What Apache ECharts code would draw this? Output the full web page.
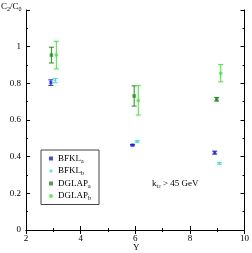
<!DOCTYPE html>
<html><head><meta charset="utf-8">
<script src="https://cdn.jsdelivr.net/npm/echarts@6/dist/echarts.min.js"></script>
<style>html,body{margin:0;padding:0;background:#fff}#c{width:252px;height:253px}</style>
</head><body><div id="c"></div>
<script>
// Data: [Y, C2/C0, error]
const bfklA  = [[2.91, 0.804, 0.015], [5.90, 0.463, 0.004], [8.91, 0.422, 0.008]];
const bfklB  = [[3.07, 0.815, 0.012], [6.07, 0.483, 0.004], [9.08, 0.364, 0.005]];
const dglapA = [[2.93, 0.954, 0.043], [5.96, 0.731, 0.055], [8.98, 0.713, 0.010]];
const dglapB = [[3.11, 0.954, 0.075], [6.11, 0.707, 0.080], [9.13, 0.855, 0.047]];
const xTicks = [2, 4, 6, 8, 10];
const yTicks = [0, 0.2, 0.4, 0.6, 0.8, 1];

const font = 'Liberation Serif';
const chart = echarts.init(document.getElementById('c'));

function errSeries(data, color) {
  return {
    type: 'custom', data: data, z: 2, silent: true,
    renderItem: function (params, api) {
      const x = api.value(0), y = api.value(1), e = api.value(2);
      const top = api.coord([x, y + e]), bot = api.coord([x, y - e]);
      const w = 2.5;
      const st = { stroke: color, lineWidth: 1 };
      return { type: 'group', children: [
        { type: 'line', shape: { x1: top[0], y1: top[1], x2: bot[0], y2: bot[1] }, style: st },
        { type: 'line', shape: { x1: top[0] - w, y1: top[1], x2: top[0] + w, y2: top[1] }, style: st },
        { type: 'line', shape: { x1: bot[0] - w, y1: bot[1], x2: bot[0] + w, y2: bot[1] }, style: st }
      ]};
    }
  };
}
function ptSeries(name, data, color, symbol, size) {
  return { name: name, type: 'scatter', data: data.map(d => [d[0], d[1]]), symbol: symbol, symbolSize: size,
    itemStyle: { color: color }, z: 3 };
}

const cBA = '#1a1aff', cBB = '#40e0d0', cDA = '#1f8f1f', cDB = '#33ee33';
const rich = {
  b: { fontFamily: font, fontSize: 9, color: '#000', lineHeight: 11 },
  s: { fontFamily: font, fontSize: 6, color: '#000', lineHeight: 6, verticalAlign: 'bottom', padding: [5, 0, 0, 0] },
  ss: { fontFamily: font, fontSize: 5, color: '#000', lineHeight: 5, verticalAlign: 'bottom', padding: [9, 0, 0, 0] }
};

const axisCommon = {
  axisLine: { lineStyle: { color: '#000', width: 1 } },
  axisTick: { inside: true, length: 4, lineStyle: { color: '#000' } },
  minorTick: { show: true, splitNumber: 2, length: 2, lineStyle: { color: '#000' } },
  splitLine: { show: false }
};

chart.setOption({
  animation: false,
  grid: { left: 26, right: 6, top: 10, bottom: 23 },
  xAxis: [
    Object.assign({ type: 'value', min: xTicks[0], max: xTicks[xTicks.length - 1], interval: 2,
      axisLabel: { fontFamily: font, fontSize: 9, color: '#000', margin: 4 } }, axisCommon),
    Object.assign({ type: 'value', position: 'top', min: 2, max: 10, interval: 2, axisLabel: { show: false } }, axisCommon)
  ],
  yAxis: [
    Object.assign({ type: 'value', min: 0, max: 1.2, interval: 0.2,
      axisLabel: { fontFamily: font, fontSize: 9, color: '#000', margin: 5,
        formatter: v => yTicks.some(t => Math.abs(t - v) < 1e-6) ? String(+v.toFixed(1)) : '' } }, axisCommon),
    Object.assign({ type: 'value', position: 'right', min: 0, max: 1.2, interval: 0.2, axisLabel: { show: false } }, axisCommon)
  ],
  legend: {
    left: 41, top: 150, orient: 'vertical', itemWidth: 4, itemHeight: 4, itemGap: 1.5,
    padding: [3, 8, 3, 8], borderColor: '#444', borderWidth: 1, backgroundColor: '#fff',
    textStyle: { rich: rich },
    formatter: n => { const p = n.split('_'); return '{b|' + p[0] + '}{s|' + p[1] + '}'; },
    data: ['BFKL_a', 'BFKL_b', 'DGLAP_a', 'DGLAP_b']
  },
  graphic: [
    { type: 'text', left: 1, top: 1, style: { text: '{b|C}{s|2}{b|/C}{s|0}', rich: rich } },
    { type: 'text', left: 133, top: 243, style: { text: 'Y', font: '9px ' + font, fill: '#000' } },
    { type: 'text', left: 152, top: 175, style: { text: '{b|k}{s|t}{ss|2}{b| > 45 GeV}', rich: rich } }
  ],
  series: [
    errSeries(bfklA, cBA), errSeries(bfklB, cBB), errSeries(dglapA, cDA), errSeries(dglapB, cDB),
    ptSeries('BFKL_a', bfklA, cBA, 'rect', 3),
    ptSeries('BFKL_b', bfklB, cBB, 'diamond', 3),
    ptSeries('DGLAP_a', dglapA, cDA, 'rect', 3.5),
    ptSeries('DGLAP_b', dglapB, cDB, 'circle', 3.5)
  ]
});
</script></body></html>
